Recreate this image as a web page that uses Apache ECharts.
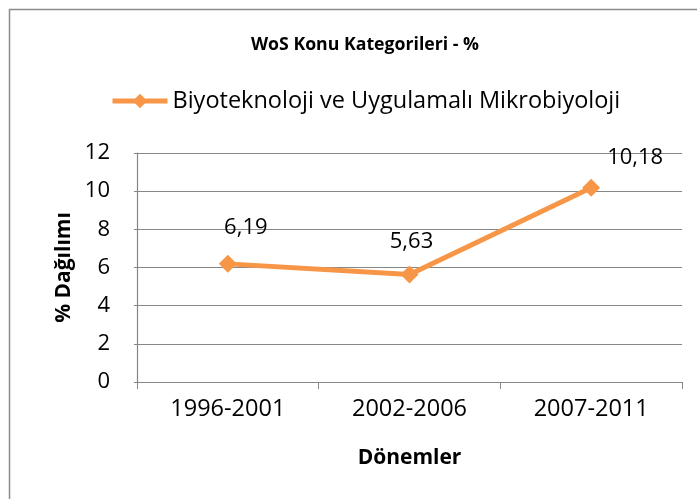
<!DOCTYPE html>
<html>
<head>
<meta charset="utf-8">
<script src="https://cdn.jsdelivr.net/npm/echarts@6/dist/echarts.min.js"></script>
<style>
  html, body { margin: 0; padding: 0; background: #fff; }
  #chart { width: 697px; height: 499px; }
</style>
</head>
<body>
<div id="chart"></div>
<script>
const periods = ['1996-2001', '2002-2006', '2007-2011']
const shares = [6.19, 5.63, 10.18]
const seriesName = 'Biyoteknoloji ve Uygulamalı Mikrobiyoloji'

// hand placed labels, like in the original sheet
const labelOffsets = [[18, -36], [2, -33], [44, -30]]

const FONT = '"Open Sans", sans-serif'
const ORANGE = '#F79646'
const GRID_GRAY = '#868686'

const chart = echarts.init(document.getElementById('chart'), null, { renderer: 'canvas' })

chart.setOption({
  animation: false,
  textStyle: { fontFamily: FONT, color: '#000' },
  title: {
    text: 'WoS Konu Kategorileri - %',
    left: 360,
    top: 31,
    textAlign: 'center',
    textStyle: { fontFamily: FONT, fontSize: 17.7, fontWeight: 'bold', color: '#000' }
  },
  legend: {
    data: [seriesName],
    left: 105,
    top: 84,
    itemWidth: 55,
    itemHeight: 18,
    itemGap: 3,
    lineStyle: { width: 5 },
    textStyle: { fontFamily: FONT, fontSize: 23.5, color: '#000' }
  },
  graphic: [{
    type: 'rect',
    shape: { x: 9.5, y: 9.5, width: 720, height: 520 },
    style: { fill: null, stroke: '#8c8c8c', lineWidth: 1.5 },
    silent: true
  }],
  grid: { left: 137, right: 15, top: 153, bottom: 117 },
  xAxis: {
    type: 'category',
    data: periods,
    name: 'Dönemler',
    nameLocation: 'middle',
    nameGap: 66,
    nameMoveOverlap: false,
    nameTextStyle: { fontFamily: FONT, fontSize: 21, fontWeight: 'bold', color: '#000' },
    axisLine: { lineStyle: { color: GRID_GRAY, width: 1.2 } },
    axisTick: { show: true, length: 7, lineStyle: { color: GRID_GRAY } },
    axisLabel: { fontFamily: FONT, fontSize: 23.5, color: '#000', margin: 15 }
  },
  yAxis: {
    type: 'value',
    min: 0,
    max: 12,
    interval: 2,
    name: '% Dağılımı',
    nameLocation: 'middle',
    nameRotate: 90,
    nameGap: 62,
    nameMoveOverlap: false,
    nameTextStyle: { fontFamily: FONT, fontSize: 21, fontWeight: 'bold', color: '#000' },
    axisLine: { show: true, lineStyle: { color: GRID_GRAY, width: 1.2 } },
    axisTick: { show: true, length: 3, lineStyle: { color: GRID_GRAY } },
    splitLine: { lineStyle: { color: GRID_GRAY, width: 1.2 } },
    axisLabel: { fontFamily: FONT, fontSize: 22, color: '#000', margin: 27 }
  },
  series: [{
    name: seriesName,
    type: 'line',
    data: shares.map((v, i) => ({
      value: v,
      label: { offset: labelOffsets[i] }
    })),
    symbol: 'diamond',
    symbolSize: 18,
    lineStyle: { color: ORANGE, width: 5 },
    itemStyle: { color: ORANGE },
    label: {
      show: true,
      position: 'inside',
      fontFamily: FONT,
      fontSize: 22,
      color: '#000',
      formatter: p => String(p.value).replace('.', ',')
    }
  }]
})
</script>
</body>
</html>
